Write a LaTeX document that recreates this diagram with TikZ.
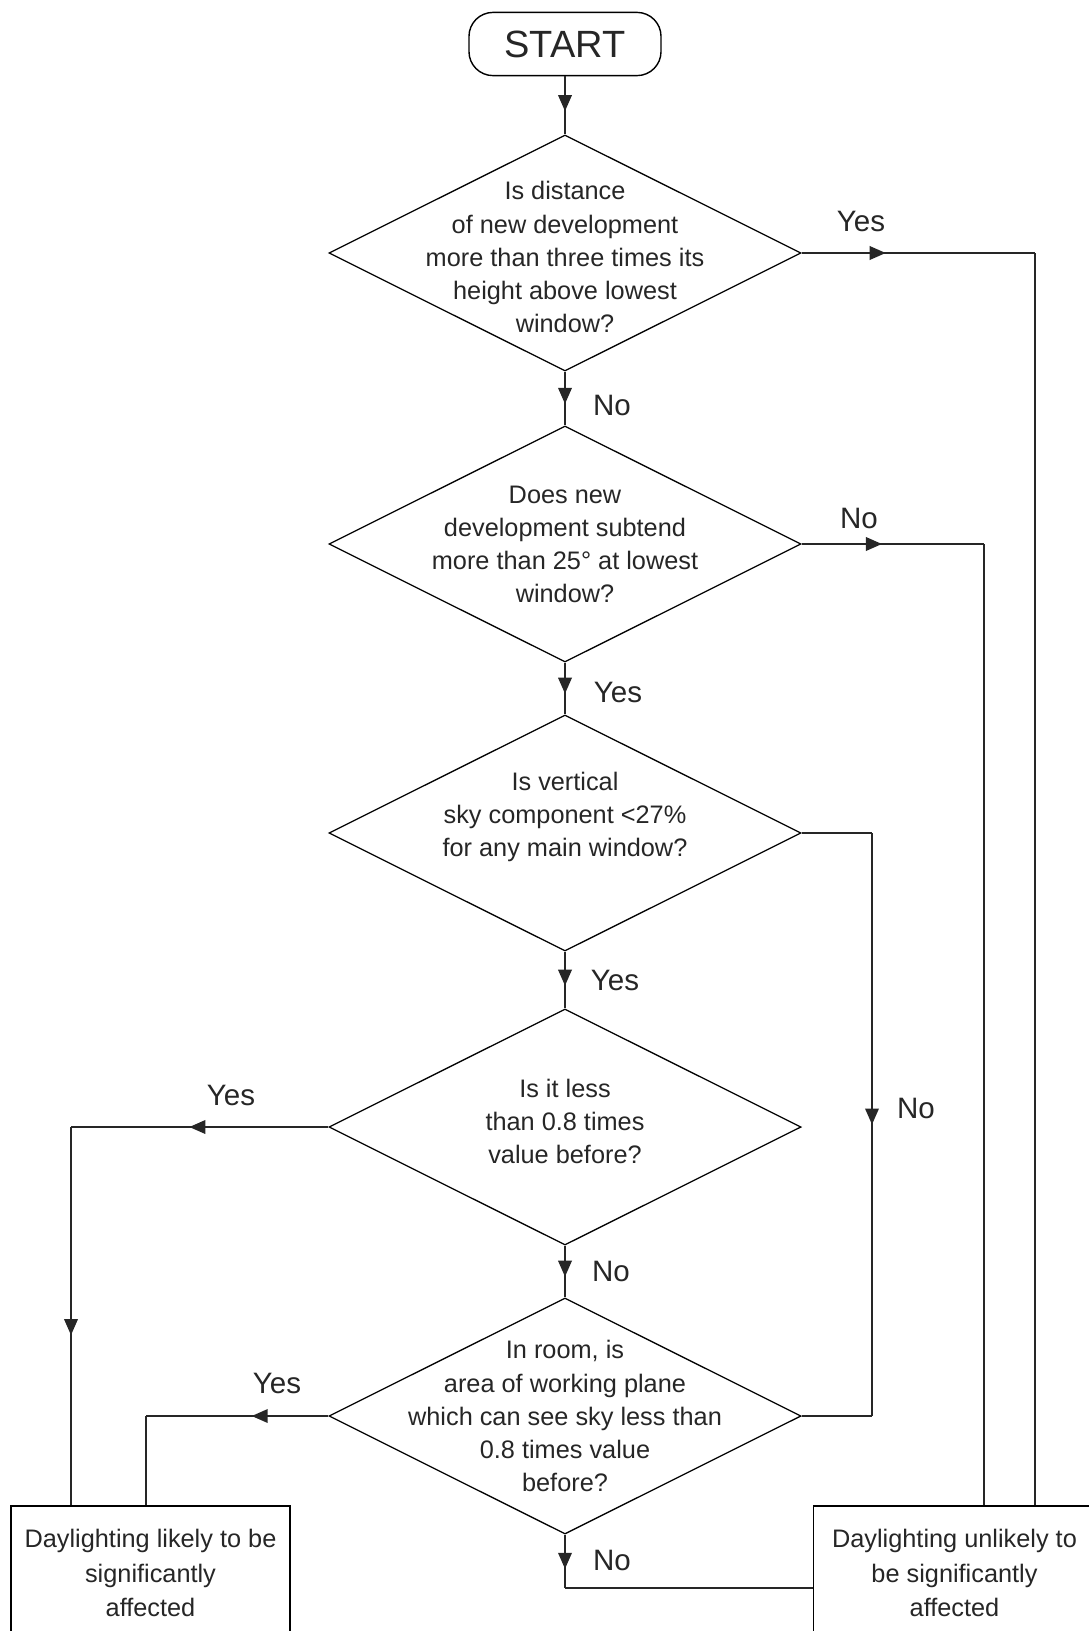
\documentclass[tikz,border=0pt]{standalone}
\usepackage{fontspec}
\setmainfont{Liberation Sans}
\usetikzlibrary{shapes.geometric,arrows.meta,decorations.markings}

\tikzset{
  terminal/.style={draw, line width=1pt, rounded corners=0.6cm, minimum width=4.8cm, minimum height=1.58cm, font=\fontsize{27}{30}\selectfont, text=black!85},
  decision/.style={diamond, draw, line width=0.9pt, minimum width=11.8cm, minimum height=5.9cm, inner sep=0pt},
  qtext/.style={align=center, inner sep=0pt, font=\fontsize{18}{23.5}\selectfont, text=black!85},
  outcome/.style={draw, line width=0.9pt, align=center, inner sep=0pt, font=\fontsize{18}{24.8}\selectfont, text=black!85},
  answer/.style={inner sep=0pt, font=\fontsize{21}{24}\selectfont, text=black!85},
  flow/.style={line width=1.2pt, black!85},
  arrowat/.style={postaction={decorate}, decoration={markings, mark=at position #1 with {\arrow{Triangle[length=0.4cm,width=0.34cm]}}}}
}

\begin{document}
\begin{tikzpicture}[x=0.025cm, y=-0.025cm]
  % Fix the page
  \useasboundingbox (0,0) rectangle (1088,1631);
  % Start and question boxes
  \node[terminal] (start) at (565,44) {START};
  \foreach \n/\y in {d1/253,d2/544,d3/833,d4/1127,d5/1416}
    \node[decision] (\n) at (565,\y) {};
  \node[qtext, yshift=-0.1cm] (q1) at (d1) {Is distance\\of new development\\more than three times its\\height above lowest\\window?};
  \node[qtext] (q2) at (d2) {Does new\\development subtend\\more than 25° at lowest\\window?};
  \node[qtext, yshift=0.4cm] (q3) at (d3) {Is vertical\\sky component <27\%\\for any main window?};
  \node[qtext, yshift=0.15cm] (q4) at (d4) {Is it less\\than 0.8 times\\value before?};
  \node[qtext] (q5) at (d5) {In room, is\\area of working plane\\which can see sky less than\\0.8 times value\\before?};
  % Outcomes
  \node[outcome, minimum width=6.975cm, minimum height=3.35cm] (lbox) at (150.5,1573) {Daylighting likely to be\\significantly\\affected};
  \node[outcome, minimum width=7.05cm, minimum height=3.35cm] (rbox) at (954.5,1573) {Daylighting unlikely to\\be significantly\\affected};
  % Main column
  \foreach \a/\b in {start/d1,d1/d2,d2/d3,d3/d4,d4/d5}
    \draw[flow, arrowat=0.6] (\a) -- (\b);
  \coordinate (c6) at (565,1588);
  \draw[flow, arrowat=0.64] (d5.south) -- (c6);
  \draw[flow] (c6) -- (c6 -| rbox.west);
  % Right branches
  \coordinate (c1) at (1035,253);
  \draw[flow, arrowat=0.36] (d1.east) -- (c1);
  \draw[flow] (c1) -- (c1 |- rbox.north);
  \coordinate (c2) at (984,544);
  \draw[flow, arrowat=0.44] (d2.east) -- (c2);
  \draw[flow] (c2) -- (c2 |- rbox.north);
  \coordinate (c3) at (872,833);
  \draw[flow] (d3.east) -- (c3);
  \draw[flow, arrowat=0.5] (c3) -- (c3 |- d5.east);
  \draw[flow] (c3 |- d5.east) -- (d5.east);
  % Left branches
  \coordinate (c4) at (71,1127);
  \draw[flow, arrowat=0.54] (d4.west) -- (c4);
  \draw[flow, arrowat=0.55] (c4) -- (c4 |- lbox.north);
  \coordinate (c5) at (146,1416);
  \draw[flow, arrowat=0.42] (d5.west) -- (c5);
  \draw[flow] (c5) -- (c5 |- lbox.north);
  % Answers
  \node[answer] (a1) at (861,221) {Yes};
  \node[answer] (a2) at (612,405) {No};
  \node[answer] (a3) at (859,518) {No};
  \node[answer] (a4) at (618,692) {Yes};
  \node[answer] (a5) at (615,980) {Yes};
  \node[answer] (a6) at (916,1108) {No};
  \node[answer] (a7) at (231,1095) {Yes};
  \node[answer] (a8) at (611,1271) {No};
  \node[answer] (a9) at (277,1383) {Yes};
  \node[answer] (a10) at (612,1560) {No};
\end{tikzpicture}
\end{document}
